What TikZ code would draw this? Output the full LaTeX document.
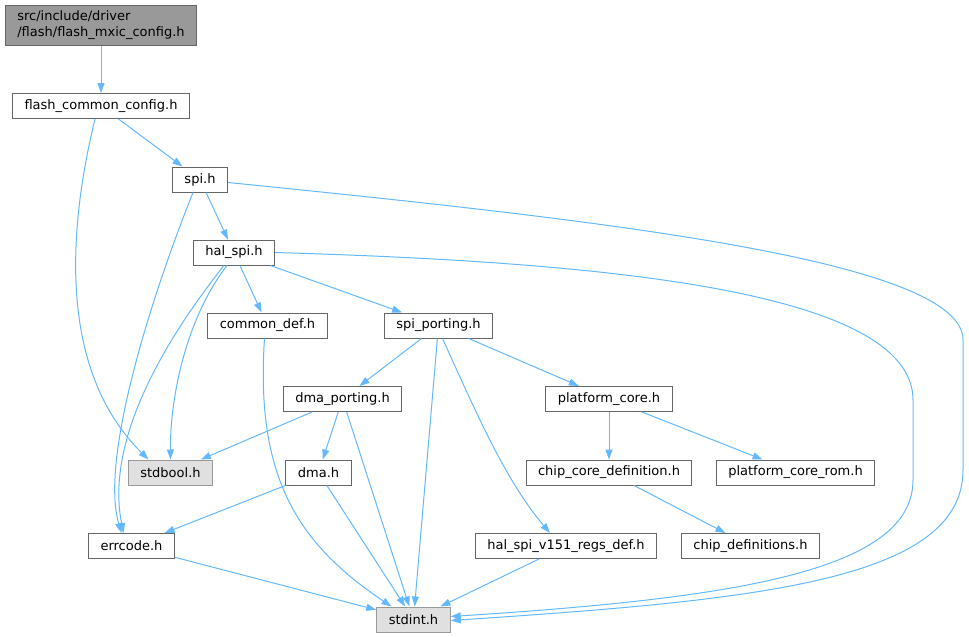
\documentclass[tikz,border=0pt]{standalone}
\usepackage{fontspec}
\setmainfont{DejaVu Sans}
\usetikzlibrary{arrows.meta,calc}
\definecolor{edgeblue}{HTML}{63B8FF}
\definecolor{boxline}{HTML}{666666}
\definecolor{rootfill}{HTML}{999999}
\definecolor{sysfill}{HTML}{E0E0E0}
\tikzset{font=\fontsize{13}{15.5}\selectfont}
\tikzset{file/.style={draw=boxline, fill=white, line width=1pt, minimum height=25pt, inner xsep=12pt, inner ysep=0pt},
  root/.style={file, fill=rootfill, align=left, minimum height=40pt},
  sys/.style={file, fill=sysfill, draw=rootfill},
  inc/.style={draw=edgeblue, line width=1pt, -{Triangle[length=10pt,width=7pt]}}}

\begin{document}
\begin{tikzpicture}[x=1pt,y=-1pt]
  \useasboundingbox (0,0) rectangle (969,637);
  \node[root] (mxic) at (101,25) {src/include/driver\\/flash/flash\_mxic\_config.h};
  \node[file] (fcc) at (101,106) {flash\_common\_config.h};
  \node[file] (spi) at (200,179.5) {spi.h};
  \node[file] (halspi) at (234,252.5) {hal\_spi.h};
  \node[file] (commondef) at (267.5,325.5) {common\_def.h};
  \node[file] (spiporting) at (438.5,325.5) {spi\_porting.h};
  \node[file] (dmaporting) at (342.5,399) {dma\_porting.h};
  \node[file] (platcore) at (609,399) {platform\_core.h};
  \node[sys] (stdbool) at (170.5,472.5) {stdbool.h};
  \node[file] (dma) at (318.5,472.5) {dma.h};
  \node[file] (chipcore) at (609,472.5) {chip\_core\_definition.h};
  \node[file] (platrom) at (795.5,472.5) {platform\_core\_rom.h};
  \node[file] (errcode) at (131.5,546) {errcode.h};
  \node[file] (halv151) at (566,546) {hal\_spi\_v151\_regs\_def.h};
  \node[file] (chipdefs) at (750.5,546) {chip\_definitions.h};
  \node[sys] (stdint) at (413.5,619.5) {stdint.h};

  \foreach \a/\b in {mxic/fcc, fcc/spi, spi/halspi, halspi/commondef, halspi/spiporting,
    spiporting/dmaporting, spiporting/stdint, spiporting/platcore, dmaporting/stdbool,
    dmaporting/dma, dmaporting/stdint, dma/errcode, dma/stdint, errcode/stdint,
    halv151/stdint, platcore/chipcore, platcore/platrom, chipcore/chipdefs}
    \draw[inc] (\a) -- (\b);

  % curved includes
  \draw[inc] ($(fcc.south)+(-6,0)$) .. controls (68,230) and (58,370) .. ($(stdbool.north)+(-22,0)$);
  \draw[inc] ($(spi.south)+(-7,0)$) .. controls (150,300) and (100,460) .. ($(errcode.north)+(-10,0)$);
  \draw[inc] ($(halspi.south)+(-10,0)$) .. controls (165,340) and (105,440) .. ($(errcode.north)+(-8,0)$);
  \draw[inc] ($(halspi.south)+(-7,0)$) .. controls (185,320) and (170,400) .. (stdbool.north);
  \draw[inc] ($(commondef.south)+(-3,0)$) .. controls (255,480) and (300,545) .. ($(stdint.north)+(-22,0)$);
  \draw[inc] ($(spiporting.south)+(4,0)$) .. controls (475,410) and (505,480) .. ($(halv151.north)+(-16,0)$);
  \draw[inc] (halspi.east) .. controls (600,262) and (913,290) .. (913,400) -- (913,480)
    .. controls (913,570) and (740,598) .. ($(stdint.east)+(0,-3)$);
  \draw[inc] ($(spi.east)+(0,3)$) .. controls (600,220) and (963,260) .. (963,340) -- (963,470)
    .. controls (963,580) and (760,600) .. ($(stdint.east)+(0,1)$);
\end{tikzpicture}
\end{document}
